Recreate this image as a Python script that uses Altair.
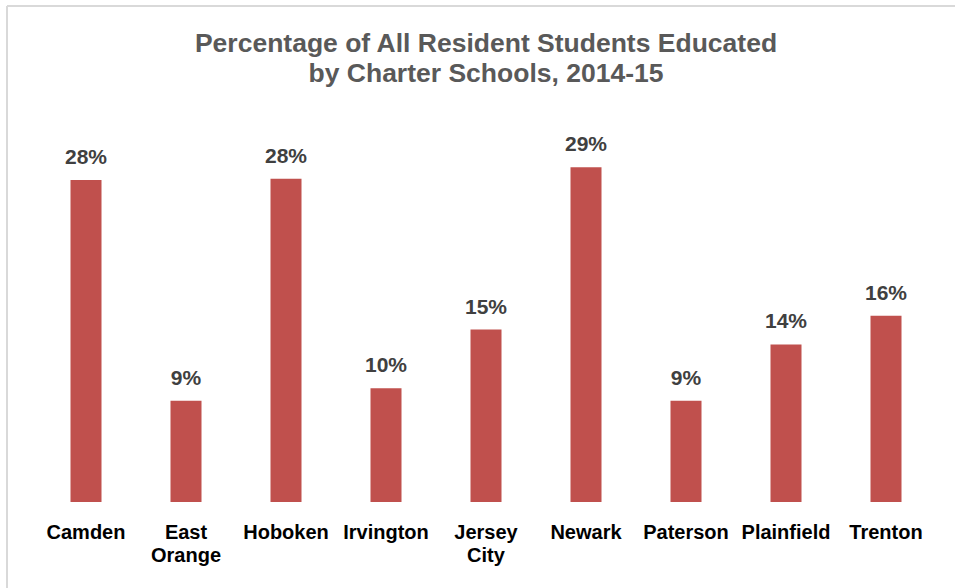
import altair as alt
import pandas as pd

cities = ["Camden", "East Orange", "Hoboken", "Irvington", "Jersey City",
          "Newark", "Paterson", "Plainfield", "Trenton"]
shares = [28.0, 8.8, 28.1, 9.9, 15.0, 29.1, 8.8, 13.7, 16.2]
labels = ["28%", "9%", "28%", "10%", "15%", "29%", "9%", "14%", "16%"]

df = pd.DataFrame({"city": cities, "share": shares, "label": labels})

FONT = "Liberation Sans"

x = alt.X("city:N", sort=cities, title=None,
          scale=alt.Scale(paddingInner=0, paddingOuter=0),
          axis=alt.Axis(domain=False, ticks=False, labelAngle=0,
                        labelFont=FONT, labelFontSize=20, labelFontWeight="bold",
                        labelColor="#000000", labelPadding=20, labelBaseline="top",
                        labelLineHeight=23,
                        labelExpr="split(datum.label, ' ')"))
y = alt.Y("share:Q", title=None, scale=alt.Scale(domain=[0, 30], nice=False),
          axis=None)

bars = alt.Chart(df).mark_bar(size=31, color="#C0504D").encode(x=x, y=y)
text = alt.Chart(df).mark_text(dy=-22, baseline="middle", font=FONT, fontSize=21,
                               fontWeight="bold", color="#404040").encode(
    x=x, y=y, text="label:N")

border_v = alt.Chart(df).mark_rule(color="#D9D9D9", strokeWidth=2).encode(
    x=alt.value(-29), y=alt.value(-151), y2=alt.value(440))
border_h = alt.Chart(df).mark_rule(color="#D9D9D9", strokeWidth=2).encode(
    x=alt.value(-29), x2=alt.value(930), y=alt.value(-151))

chart = alt.layer(border_v, border_h, bars, text).properties(
    width=900, height=345,
    background="white",
    autosize=alt.AutoSizeParams(type="none"),
    padding={"left": 36, "top": 157, "right": 19, "bottom": 86},
    title=alt.TitleParams(
        text=["Percentage of All Resident Students Educated",
              "by Charter Schools, 2014-15"],
        font=FONT, fontSize=26.5, fontWeight="bold", color="#595959",
        anchor="middle", frame="group", offset=-82.5, lineHeight=30),
).configure_view(stroke=None)

chart.save("out.html", embed_options={"renderer": "svg", "actions": False})
